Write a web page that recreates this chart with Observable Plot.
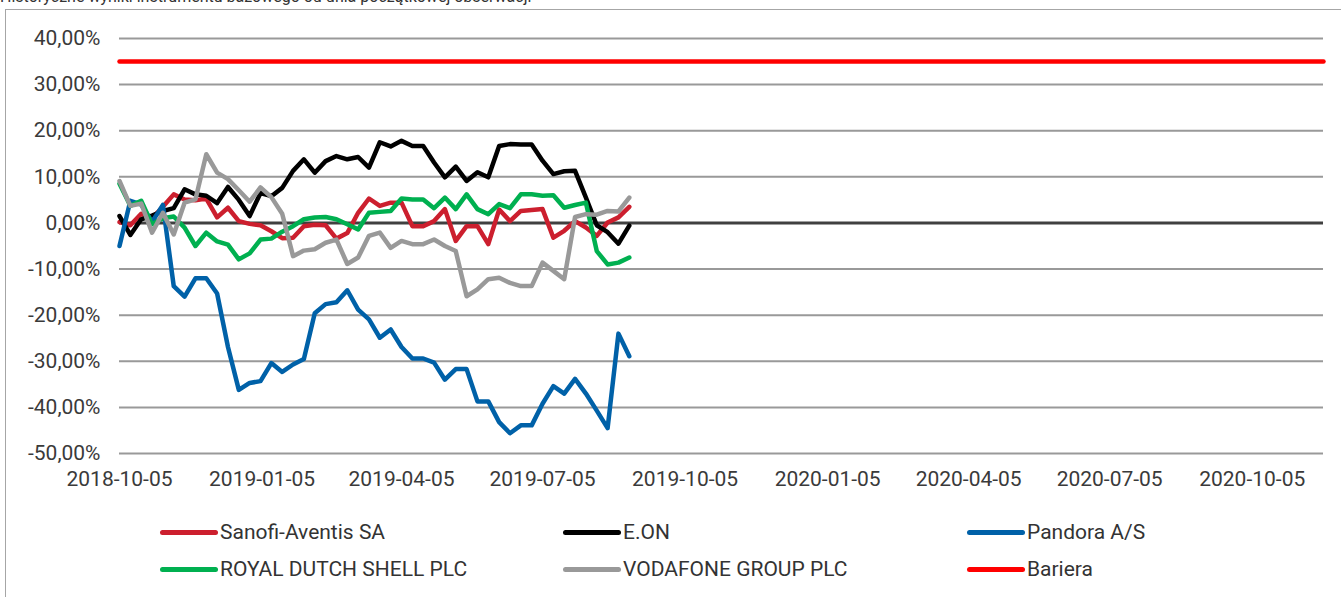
<!DOCTYPE html>
<html>
<head>
<meta charset="utf-8">
<script src="https://cdn.jsdelivr.net/npm/d3@7"></script>
<script src="https://cdn.jsdelivr.net/npm/@observablehq/plot@0.6"></script>
<style>
  html, body { margin: 0; padding: 0; background: #fff; }
  #wrap { position: relative; width: 1341px; height: 597px; overflow: hidden; font-family: Roboto, "Liberation Sans", sans-serif; }
  #title { position: absolute; left: 0; top: -11px; font-size: 16px; line-height: 16px; color: #333; white-space: nowrap; }
  #frame { position: absolute; left: 5px; top: 9px; width: 1345px; height: 600px; border: 1px solid #a6a6a6; box-sizing: border-box; }
  #chart { position: absolute; left: 0; top: 0; }
  .leg { position: absolute; display: flex; align-items: center; font-size: 21px; color: #333; white-space: nowrap; }
  .leg .sw { width: 58px; height: 5px; border-radius: 3px; margin-right: 2px; }
</style>
</head>
<body>
<div id="wrap">
  <div id="title"></div>
  <div id="frame"></div>
  <div id="chart"></div>
  <div id="legend"></div>
</div>
<script>
const titleText = "Historyczne wyniki instrumentu bazowego od dnia początkowej obserwacji";

const dates = [
  "2018-10-05","2018-10-12","2018-10-19","2018-10-26","2018-11-02","2018-11-09","2018-11-16","2018-11-23",
  "2018-11-30","2018-12-07","2018-12-14","2018-12-21","2018-12-28","2019-01-04","2019-01-11","2019-01-18",
  "2019-01-25","2019-02-01","2019-02-08","2019-02-15","2019-02-22","2019-03-01","2019-03-08","2019-03-15",
  "2019-03-22","2019-03-29","2019-04-05","2019-04-12","2019-04-19","2019-04-26","2019-05-03","2019-05-10",
  "2019-05-17","2019-05-24","2019-05-31","2019-06-07","2019-06-14","2019-06-21","2019-06-28","2019-07-05",
  "2019-07-12","2019-07-19","2019-07-26","2019-08-02","2019-08-09","2019-08-16","2019-08-23","2019-08-30"
];

// values in percent
const sanofi = [0.2,-0.5,2.0,1.0,3.5,6.2,5.1,4.9,5.3,1.2,3.3,0.4,-0.2,-0.5,-1.8,-3.3,
  -3.2,-0.7,-0.4,-0.5,-3.4,-2.2,2.2,5.3,3.7,4.4,4.4,-0.7,-0.7,0.4,3.0,-3.9,
  -0.7,-0.7,-4.6,2.9,0.4,2.6,2.8,3.0,-3.2,-1.7,0.4,-1.0,-2.8,0.1,1.2,3.5];

const eon = [1.5,-2.6,0.8,1.6,2.6,3.2,7.3,6.2,5.9,4.3,7.8,5.0,1.5,6.5,5.8,7.6,
  11.3,13.8,10.9,13.4,14.5,13.8,14.3,12.0,17.5,16.6,17.8,16.7,16.7,13.1,9.9,12.2,
  9.1,11.0,9.9,16.7,17.1,17.0,17.0,13.5,10.6,11.2,11.3,5.5,-0.5,-2.0,-4.5,-0.6];

const pandora = [-5.0,4.8,4.0,0.2,3.9,-13.7,-16.0,-12.0,-12.0,-15.3,-26.9,-36.2,-34.7,-34.3,-30.4,-32.3,
  -30.7,-29.5,-19.6,-17.6,-17.2,-14.6,-18.8,-20.9,-24.9,-23.1,-26.9,-29.4,-29.4,-30.3,-34.0,-31.7,
  -31.7,-38.7,-38.7,-43.2,-45.6,-43.9,-43.9,-39.2,-35.4,-37.0,-33.8,-37.0,-40.7,-44.5,-24.0,-28.9];

const shell = [8.5,3.7,4.8,-0.3,1.0,1.4,-1.0,-5.0,-2.1,-4.0,-4.7,-7.9,-6.6,-3.6,-3.4,-1.9,
  -0.7,0.8,1.2,1.3,0.8,-0.3,-1.4,2.2,2.4,2.6,5.3,5.1,5.1,3.2,5.5,3.0,
  6.2,3.0,1.9,4.1,3.2,6.2,6.2,5.9,6.0,3.3,3.9,4.4,-6.1,-9.0,-8.6,-7.5];

const vodafone = [9.1,3.7,4.2,-2.1,2.2,-2.5,4.4,5.1,14.9,10.9,9.5,7.1,4.6,7.7,5.6,2.0,
  -7.2,-6.0,-5.7,-4.3,-3.6,-8.9,-7.5,-2.8,-2.1,-5.4,-3.9,-4.6,-4.6,-3.6,-5.0,-6.1,
  -15.9,-14.4,-12.2,-11.9,-13.0,-13.7,-13.7,-8.6,-10.4,-12.2,1.3,1.9,1.8,2.6,2.5,5.5];

const barrierValue = 35;
const barrierDates = ["2018-10-05", "2020-11-20"];

const seriesNames = ["Sanofi-Aventis SA", "E.ON", "Pandora A/S", "ROYAL DUTCH SHELL PLC", "VODAFONE GROUP PLC", "Bariera"];
const seriesColors = ["#cc1f2e", "#000000", "#0061a8", "#00b050", "#999999", "#ff0000"];

const xTicks = ["2018-10-05","2019-01-05","2019-04-05","2019-07-05","2019-10-05","2020-01-05","2020-04-05","2020-07-05","2020-10-05"];
const yTicks = [-50,-40,-30,-20,-10,0,10,20,30,40];

const parse = d3.utcParse("%Y-%m-%d");
const seriesValues = [sanofi, eon, pandora, shell, vodafone];
const toRows = (vals) => vals.map((v, i) => ({date: parse(dates[i]), value: v}));
const barrierRows = barrierDates.map(d => ({date: parse(d), value: barrierValue}));
const xDomain = barrierDates.map(parse);

document.getElementById("title").textContent = titleText;

const lineMarks = seriesValues.map((vals, k) =>
  Plot.line(toRows(vals), {x: "date", y: "value", stroke: seriesColors[k], strokeWidth: 4.5,
    strokeLinejoin: "round", strokeLinecap: "round"})
);

const chart = Plot.plot({
  width: 1341,
  height: 500,
  marginTop: 38,
  marginBottom: 47,
  marginLeft: 119,
  marginRight: 18,
  style: {background: "transparent", fontFamily: "Roboto, 'Liberation Sans', sans-serif", fontSize: "21px", color: "#3a3a3a"},
  x: {type: "utc", domain: xDomain},
  y: {domain: [-50, 40]},
  marks: [
    Plot.ruleY(yTicks, {x1: xDomain[0], x2: xDomain[1], stroke: "#999999", strokeWidth: 2}),
    Plot.ruleY([0], {x1: xDomain[0], x2: xDomain[1], stroke: "#404040", strokeWidth: 3}),
    Plot.axisY({ticks: yTicks, tickSize: 0, tickPadding: 19, label: null,
      tickFormat: d => d.toFixed(2).replace(".", ",") + "%", fill: "#3a3a3a"}),
    Plot.axisX({ticks: xTicks.map(parse), tickSize: 0, tickPadding: 18, label: null,
      tickFormat: d3.utcFormat("%Y-%m-%d"), fill: "#3a3a3a"}),
    ...lineMarks,
    Plot.line(barrierRows, {x: "date", y: "value", stroke: seriesColors[5], strokeWidth: 4.5})
  ]
});
document.getElementById("chart").appendChild(chart);

// legend
const legendPos = [
  {left: 160, top: 532}, {left: 563, top: 532}, {left: 967, top: 532},
  {left: 160, top: 569}, {left: 563, top: 569}, {left: 967, top: 569}
];
const legendOrder = [0, 1, 2, 3, 4, 5];
const legend = document.getElementById("legend");
legendOrder.forEach((k, j) => {
  const item = document.createElement("div");
  item.className = "leg";
  item.style.left = legendPos[j].left + "px";
  item.style.top = (legendPos[j].top - 13) + "px";
  item.style.height = "26px";
  const sw = document.createElement("span");
  sw.className = "sw";
  sw.style.background = seriesColors[k];
  const tx = document.createElement("span");
  tx.textContent = seriesNames[k];
  item.appendChild(sw);
  item.appendChild(tx);
  legend.appendChild(item);
});
</script>
</body>
</html>
